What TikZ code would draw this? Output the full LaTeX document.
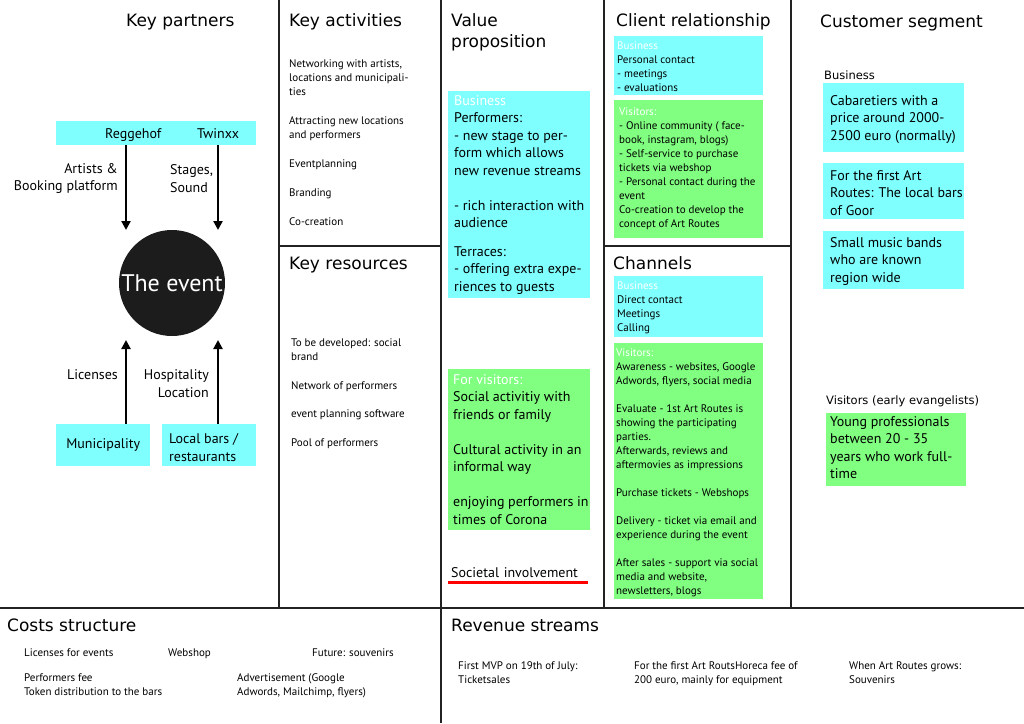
\documentclass[tikz,border=0pt]{standalone}
\usepackage{fontspec}
\setmainfont{PT Sans}
\newfontfamily\titlefont{DejaVu Sans}
\usetikzlibrary{arrows.meta,positioning}

\definecolor{bmccyan}{HTML}{80FFFF}
\definecolor{bmcgreen}{HTML}{80FF80}
\definecolor{bmcline}{HTML}{222222}
\definecolor{bmcdark}{HTML}{1C1C1C}

\begin{document}
\begin{tikzpicture}[x=1pt,y=-1pt]
        \tikzstyle{cell}=[line width=2.5pt,draw=bmcline]
        \tikzstyle{title}=[anchor=base west,inner sep=0pt,align=left,font=\titlefont\fontsize{17}{21}\selectfont]
        \tikzstyle{sublabel}=[anchor=base west,inner sep=0pt,font=\titlefont\fontsize{11.5}{14}\selectfont]
        \tikzstyle{txt}=[anchor=base west,inner sep=0pt,align=left,font=\fontsize{11}{14}\selectfont]
        \tikzstyle{big}=[txt,font=\fontsize{14}{17.5}\selectfont]
        \tikzstyle{cyanbox}=[anchor=north west,fill=bmccyan,inner sep=0pt]
        \tikzstyle{greenbox}=[anchor=north west,fill=bmcgreen,inner sep=0pt]
        \tikzstyle{flow}=[line width=2.2pt,-{Triangle[width=9pt,length=9pt]}]

        \fill[white] (0,0) rectangle (1024,723);
        \useasboundingbox (0,0) rectangle (1024,723);

        %% Canvas grid
        \draw[cell] (279,0) -- (279,608);
        \draw[cell] (441,0) -- (441,723);
        \draw[cell] (604,0) -- (604,608);
        \draw[cell] (791,0) -- (791,608);
        \draw[cell] (0,608) -- (1024,608);
        \draw[cell] (279,246) -- (441,246);
        \draw[cell] (604,246) -- (791,246);

        %% Key partners (multi-line texts sit on the baseline of their last line)
        \node[title] (kptitle) at (126,26) {Key partners};
        \node[cyanbox,minimum width=200pt,minimum height=24pt] (partners) at (56,121) {};
        \node[big] (reggehof) at (105,138) {Reggehof};
        \node[big] (twinxx) at (197,138) {Twinxx};

        \node[circle,fill=bmcdark,minimum size=106pt,inner sep=0pt,text=white,
              font=\fontsize{24}{28}\selectfont] (event) at (172,283) {The event};

        \coordinate (inA) at (126,230);
        \coordinate (inB) at (218,230);
        \coordinate (inC) at (126,340);
        \coordinate (inD) at (218,340);

        \draw[flow] (partners.south -| inA) -- (inA);
        \draw[flow] (partners.south -| inB) -- (inB);

        \node[big,anchor=east,align=right] (artists) at (118,178.5) {Artists \&\\Booking platform};
        \node[big,anchor=west] (stages) at (170,178.5) {Stages,\\Sound};

        \node[cyanbox,minimum width=94pt,minimum height=42pt,font=\fontsize{14}{17.5}\selectfont] (muni) at (56,424) {Municipality};
        \node[cyanbox,minimum width=94pt,minimum height=42pt] (bars) at (162,424) {};
        \node[big] (barstext) at (169,461) {Local bars /\\restaurants};

        \draw[flow] (muni.north -| inC) -- (inC);
        \draw[flow] (bars.north -| inD) -- (inD);

        \node[big,anchor=east] (licenses) at (118,375) {Licenses};
        \node[big,anchor=east,align=right] (hospitality) at (209,383.5) {Hospitality\\Location};

        %% Key activities
        \node[title] (katitle) at (289,26) {Key activities};
        \node[txt] (ka1) at (289,95) {Networking with artists,\\locations and municipali-\\ties};
        \node[txt] (ka2) at (289,138) {Attracting new locations\\and performers};
        \node[txt] (ka3) at (289,167) {Eventplanning};
        \node[txt] (ka4) at (289,196) {Branding};
        \node[txt] (ka5) at (289,225) {Co-creation};

        %% Key resources
        \node[title] (krtitle) at (289,269) {Key resources};
        \node[txt] (kr1) at (291,360) {To be developed: social\\brand};
        \node[txt] (kr2) at (291,389) {Network of performers};
        \node[txt] (kr3) at (291,417) {event planning software};
        \node[txt] (kr4) at (291,446) {Pool of performers};

        %% Value proposition
        \node[title] (vptitle) at (451,47) {Value\\proposition};
        \node[cyanbox,minimum width=142pt,minimum height=207pt] (vpbiz) at (448,91) {};
        \node[big] (vpbiztext) at (454,291) {\textcolor{white}{Business}\\Performers:\\- new stage to per-\\form which allows\\new revenue streams\\[17.5pt]- rich interaction with\\audience\\[11pt]Terraces:\\- offering extra expe-\\riences to guests};
        \node[greenbox,minimum width=142pt,minimum height=161pt] (vpvis) at (448,369) {};
        \node[big] (vpvistext) at (453,524) {\textcolor{white}{For visitors:}\\Social activitiy with\\friends or family\\[17.5pt]Cultural activity in an\\informal way\\[17.5pt]enjoying performers in\\times of Corona};
        \node[big,inner xsep=3pt,text width=134pt] (societal) at (448,577) {Societal involvement};
        \draw[red,line width=3pt] ([yshift=-5.5pt]societal.base west) -- ([yshift=-5.5pt]societal.base east);

        %% Client relationship
        \node[title] (crtitle) at (616,26) {Client relationship};
        \node[cyanbox,minimum width=149pt,minimum height=59pt] (crbiz) at (614,36) {};
        \node[txt] (crbiztext) at (617,91) {\textcolor{white}{Business}\\Personal contact\\- meetings\\- evaluations};
        \node[greenbox,minimum width=149pt,minimum height=138pt] (crvis) at (614,100) {};
        \node[txt] (crvistext) at (619,227) {\textcolor{white}{Visitors:}\\- Online community ( face-\\book, instagram, blogs)\\- Self-service to purchase\\tickets via webshop\\- Personal contact during the\\event\\Co-creation to develop the\\concept of Art Routes};

        %% Channels
        \node[title] (chtitle) at (613,269) {Channels};
        \node[cyanbox,minimum width=149pt,minimum height=61pt] (chbiz) at (614,276) {};
        \node[txt] (chbiztext) at (617,331) {\textcolor{white}{Business}\\Direct contact\\Meetings\\Calling};
        \node[greenbox,minimum width=149pt,minimum height=256pt] (chvis) at (614,343) {};
        \node[txt] (chvistext) at (616,594) {\textcolor{white}{Visitors:}\\Awareness - websites, Google\\Adwords, flyers, social media\\[14pt]Evaluate - 1st Art Routes is\\showing the participating\\parties.\\Afterwards, reviews and\\aftermovies as impressions\\[14pt]Purchase tickets - Webshops\\[14pt]Delivery - ticket via email and\\experience during the event\\[14pt]After sales - support via social\\media and website,\\newsletters, blogs};

        %% Customer segment
        \node[title] (cstitle) at (820,27) {Customer segment};
        \node[sublabel] (csbiz) at (824,79) {Business};
        \node[cyanbox,minimum width=141pt,minimum height=69pt] (cs1) at (823,83) {};
        \node[big] (cs1text) at (830,140) {Cabaretiers with a\\price around 2000-\\2500 euro (normally)};
        \node[cyanbox,minimum width=141pt,minimum height=56pt] (cs2) at (823,163) {};
        \node[big] (cs2text) at (830,215) {For the first Art\\Routes: The local bars\\of Goor};
        \node[cyanbox,minimum width=141pt,minimum height=58pt] (cs3) at (823,231) {};
        \node[big] (cs3text) at (830,282) {Small music bands\\who are known\\region wide};
        \node[sublabel] (csvis) at (826,404) {Visitors (early evangelists)};
        \node[greenbox,minimum width=140pt,minimum height=73pt] (cs4) at (826,413) {};
        \node[big] (cs4text) at (830,478.5) {Young professionals\\between 20 - 35\\years who work full-\\time};

        %% Costs structure
        \node[title] (costtitle) at (7,631) {Costs structure};
        \node[txt] (cost1) at (24,656) {Licenses for events};
        \node[txt] (cost2) at (168,656) {Webshop};
        \node[txt] (cost3) at (312,656) {Future: souvenirs};
        \node[txt] (cost4) at (24,695) {Performers fee\\Token distribution to the bars};
        \node[txt] (cost5) at (237,695) {Advertisement (Google\\Adwords, Mailchimp, flyers)};

        %% Revenue streams
        \node[title] (revtitle) at (451,631) {Revenue streams};
        \node[txt] (rev1) at (458,683) {First MVP on 19th of July:\\Ticketsales};
        \node[txt] (rev2) at (634,683) {For the first Art RoutsHoreca fee of\\200 euro, mainly for equipment};
        \node[txt] (rev3) at (849,683) {When Art Routes grows:\\Souvenirs};
\end{tikzpicture}
\end{document}
